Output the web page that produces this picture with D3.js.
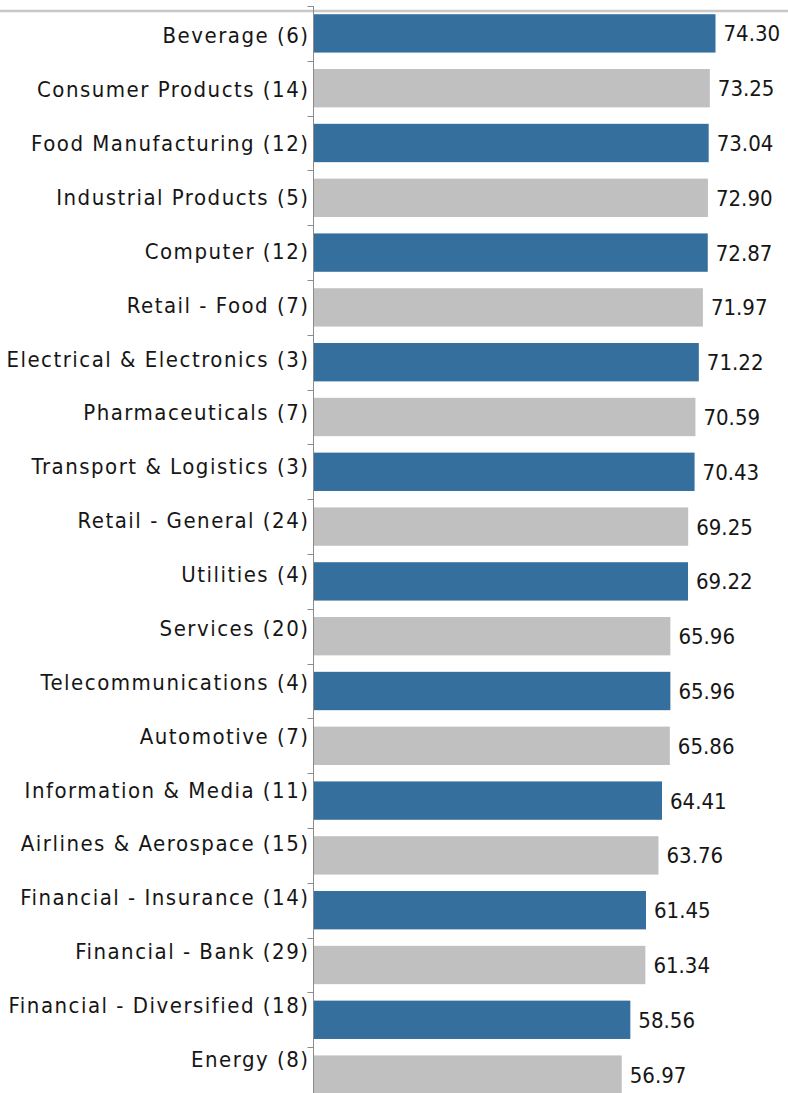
<!DOCTYPE html>
<html>
<head>
<meta charset="utf-8">
<script src="https://cdn.jsdelivr.net/npm/d3@7"></script>
<style>
  html, body { margin: 0; padding: 0; background: #ffffff; }
  svg { display: block; }
</style>
</head>
<body>
<div id="chart"></div>
<script>
// Sector scores, sorted high to low; the number in brackets is the company count.
const categories = [
  "Beverage (6)",
  "Consumer Products (14)",
  "Food Manufacturing (12)",
  "Industrial Products (5)",
  "Computer (12)",
  "Retail - Food (7)",
  "Electrical & Electronics (3)",
  "Pharmaceuticals (7)",
  "Transport & Logistics (3)",
  "Retail - General (24)",
  "Utilities (4)",
  "Services (20)",
  "Telecommunications (4)",
  "Automotive (7)",
  "Information & Media (11)",
  "Airlines & Aerospace (15)",
  "Financial - Insurance (14)",
  "Financial - Bank (29)",
  "Financial - Diversified (18)",
  "Energy (8)"
];
const scores = [
  74.30, 73.25, 73.04, 72.90, 72.87, 71.97, 71.22, 70.59, 70.43, 69.25,
  69.22, 65.96, 65.96, 65.86, 64.41, 63.76, 61.45, 61.34, 58.56, 56.97
];

const width = 788, height = 1093;
const axisX = 313.5;
const FONT = "'DejaVu Sans Condensed', 'DejaVu Sans', Verdana, sans-serif";
const BLUE = "#356f9e", GREY = "#c0c0c0";

const svg = d3.select("#chart").append("svg")
  .attr("width", width).attr("height", height);

// value scale: zero sits on the category axis
const x = d3.scaleLinear().domain([0, 74.30]).range([axisX, 715.5]);

// rows for the bars (the plot runs past the bottom edge of the page)
const y = d3.scaleBand().domain(categories).range([6, 1102])
  .paddingInner(0.3).paddingOuter(0.15);

// row positions used by the category labels
const yLabel = d3.scaleBand().domain(categories).range([8.4, 1086]);

// light rule across the top
svg.append("line")
  .attr("x1", 0).attr("x2", width).attr("y1", 11).attr("y2", 11)
  .attr("stroke", "#c8c8c8").attr("stroke-width", 2.5);

// bars, alternating blue / grey
svg.append("g").selectAll("rect").data(categories).join("rect")
  .attr("x", x(0))
  .attr("y", d => y(d))
  .attr("width", (d, i) => x(scores[i]) - x(0))
  .attr("height", y.bandwidth())
  .attr("fill", (d, i) => i % 2 === 0 ? BLUE : GREY);

// value labels
svg.append("g").selectAll("text").data(categories).join("text")
  .attr("x", (d, i) => x(scores[i]) + 8)
  .attr("y", d => y(d) + y.bandwidth() / 2)
  .attr("dy", "0.36em")
  .attr("font-family", FONT).attr("font-size", 22)
  .attr("fill", "#161616")
  .text((d, i) => d3.format(".2f")(scores[i]));

// category axis line with ticks at the row boundaries
const step = y.step();
const bounds = d3.range(categories.length + 1).map(i => y.range()[0] + i * step);
const axis = svg.append("g").attr("stroke", "#8c8c8c").attr("stroke-width", 1);
axis.append("line")
  .attr("x1", axisX).attr("x2", axisX).attr("y1", 6).attr("y2", height);
axis.selectAll("line.tick").data(bounds).join("line")
  .attr("class", "tick")
  .attr("x1", axisX - 6).attr("x2", axisX)
  .attr("y1", d => Math.round(d) + 0.5).attr("y2", d => Math.round(d) + 0.5);

// category labels
svg.append("g").selectAll("text").data(categories).join("text")
  .attr("x", 309.5)
  .attr("y", d => yLabel(d) + yLabel.bandwidth() / 2)
  .attr("dy", "0.36em")
  .attr("text-anchor", "end")
  .attr("font-family", FONT).attr("font-size", 22)
  .attr("letter-spacing", 1.5)
  .attr("fill", "#161616")
  .text(d => d);
</script>
</body>
</html>
